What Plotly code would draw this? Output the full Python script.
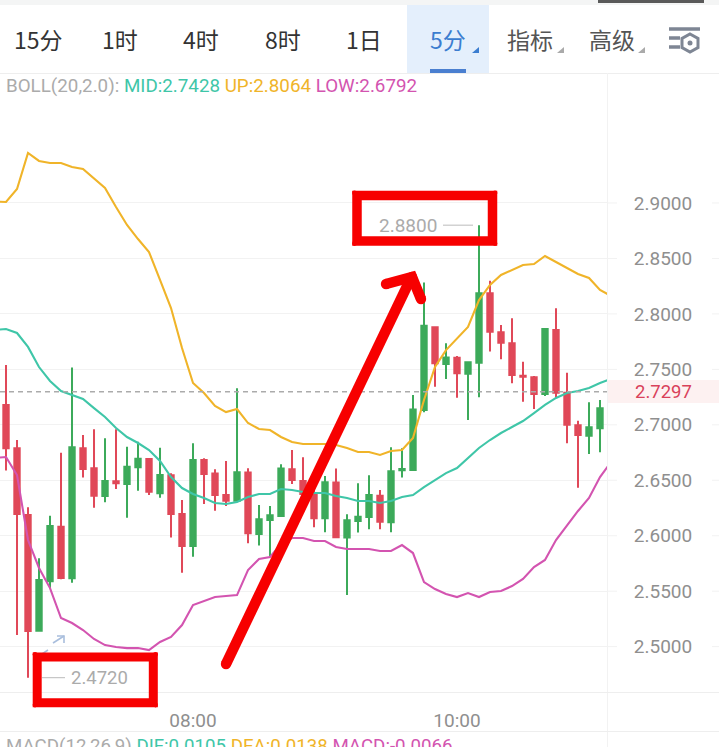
import pandas as pd
import plotly.graph_objects as go

W, H = 719, 747
PLOT_R, PLOT_T, PLOT_B = 607, 73, 692

band_times = pd.date_range("2024-01-01 06:30", periods=57, freq="5min")
candle_times = band_times[1:]

highs = [2.7540,2.6863,2.6256,2.5796,2.6181,2.6749,2.7516,2.6908,2.6959,2.6878,2.6959,2.6803,2.6848,2.6692,2.6794,2.6563,2.6322,2.6833,2.6698,2.6599,2.6674,2.7329,2.6608,2.6277,2.6268,2.6644,2.6773,2.6707,2.6412,2.6539,2.6605,2.6193,2.6473,2.6545,2.6412,2.6797,2.6788,2.7269,2.8282,2.7885,2.7735,2.7621,2.7563,2.8800,2.8300,2.7900,2.7960,2.7569,2.7440,2.7864,2.8050,2.7470,2.7037,2.7203,2.7224,2.7320]
opens = [2.7179,2.6788,2.6187,2.5144,2.5589,2.6082,2.5616,2.6788,2.6608,2.6358,2.6491,2.6467,2.6617,2.6692,2.6382,2.6545,2.6196,2.5907,2.6683,2.6560,2.6367,2.6316,2.6569,2.6016,2.6142,2.6178,2.6599,2.6494,2.6376,2.6157,2.6479,2.5983,2.6133,2.6169,2.6361,2.6121,2.6590,2.6593,2.7134,2.7879,2.7548,2.7605,2.7461,2.7560,2.8186,2.7834,2.7735,2.7443,2.7428,2.7278,2.7855,2.7290,2.6995,2.6902,2.6968,2.7149]
closes = [2.6788,2.6196,2.5141,2.5601,2.6088,2.5619,2.6797,2.6602,2.6361,2.6494,2.6473,2.6623,2.6695,2.6397,2.6548,2.6196,2.5907,2.6683,2.6557,2.6367,2.6316,2.6572,2.6022,2.6148,2.6184,2.6605,2.6503,2.6376,2.6157,2.6482,2.5986,2.6139,2.6172,2.6367,2.6127,2.6581,2.6602,2.7137,2.7894,2.7554,2.7608,2.7464,2.7563,2.8186,2.7840,2.7741,2.7449,2.7434,2.7278,2.7864,2.7290,2.7000,2.6908,2.6977,2.7149,2.7297]
lows = [2.6587,2.5105,2.4720,2.5144,2.5526,2.5607,2.5577,2.6524,2.6253,2.6301,2.6421,2.6163,2.6406,2.6367,2.6343,2.5983,2.5667,2.5811,2.6286,2.6226,2.6268,2.6316,2.5932,2.5911,2.5811,2.6178,2.6467,2.6330,2.6076,2.6031,2.5986,2.5466,2.6028,2.6058,2.6058,2.6031,2.6524,2.6593,2.7113,2.7344,2.7413,2.7245,2.7043,2.7248,2.7660,2.7590,2.7374,2.7209,2.7143,2.7260,2.7245,2.6833,2.6433,2.6737,2.6752,2.7140]

boll_up = [2.9012,2.9009,2.9126,2.9451,2.9379,2.9361,2.9361,2.9325,2.9307,2.9225,2.9135,2.8964,2.8802,2.8675,2.8558,2.8306,2.8053,2.7692,2.7377,2.7287,2.7170,2.7115,2.7142,2.7016,2.6962,2.6953,2.6890,2.6845,2.6827,2.6827,2.6827,2.6818,2.6791,2.6755,2.6755,2.6728,2.6764,2.6773,2.6881,2.7224,2.7521,2.7674,2.7783,2.7882,2.8125,2.8261,2.8351,2.8396,2.8441,2.8450,2.8522,2.8468,2.8414,2.8360,2.8324,2.8216,2.8161]
boll_mid = [2.7855,2.7864,2.7828,2.7702,2.7521,2.7395,2.7305,2.7269,2.7233,2.7151,2.7070,2.6971,2.6890,2.6836,2.6773,2.6674,2.6529,2.6430,2.6376,2.6340,2.6295,2.6286,2.6304,2.6349,2.6376,2.6376,2.6421,2.6412,2.6394,2.6385,2.6385,2.6358,2.6340,2.6313,2.6313,2.6295,2.6313,2.6349,2.6367,2.6439,2.6502,2.6565,2.6610,2.6701,2.6791,2.6863,2.6926,2.6980,2.7034,2.7106,2.7179,2.7242,2.7287,2.7305,2.7332,2.7377,2.7413]
boll_low = [2.6701,2.6710,2.6547,2.5961,2.5709,2.5528,2.5258,2.5213,2.5150,2.5069,2.5014,2.4996,2.4987,2.4987,2.4969,2.5042,2.5087,2.5195,2.5375,2.5411,2.5447,2.5456,2.5465,2.5691,2.5790,2.5808,2.5925,2.5979,2.5979,2.5952,2.5952,2.5898,2.5880,2.5880,2.5880,2.5862,2.5862,2.5916,2.5844,2.5582,2.5519,2.5474,2.5447,2.5483,2.5447,2.5492,2.5501,2.5546,2.5610,2.5718,2.5781,2.5961,2.6097,2.6223,2.6340,2.6529,2.6665]

y_ticks = [2.5, 2.55, 2.6, 2.65, 2.7, 2.75, 2.8, 2.85, 2.9]
y_range = [2.4591, 3.0172]
x_range = ["2024-01-01 06:32:16", "2024-01-01 11:08:11"]
time_ticks = ["2024-01-01 08:00", "2024-01-01 10:00"]
time_labels = ["08:00", "10:00"]
last_price = 2.7297
max_price = 2.8800
min_price = 2.4720

tabs = ["15分", "1时", "4时", "8时", "1日", "5分", "指标", "高级"]
tab_x = [38.5, 120, 201, 283, 364, 448, 530, 612]
tab_colors = ["#333"] * 5 + ["#3B7DD0", "#555", "#555"]

GREEN, RED = "#3CAA5A", "#E04858"
TEAL, YELLOW, PINK = "#3FC6A8", "#F0B429", "#D354B0"
GREY = "#8f8f8f"
FONT = "Roboto"
CJK = "Noto Sans CJK SC"

def px(x):
    return x / W
def py(y):
    return 1 - y / H

fig = go.Figure()
fig.add_trace(go.Candlestick(
    x=candle_times, open=opens, high=highs, low=lows, close=closes,
    increasing=dict(line=dict(color=GREEN, width=2), fillcolor=GREEN),
    decreasing=dict(line=dict(color=RED, width=2), fillcolor=RED),
    whiskerwidth=0, showlegend=False, hoverinfo="skip"))
for vals, col in [(boll_up, YELLOW), (boll_mid, TEAL), (boll_low, PINK)]:
    fig.add_trace(go.Scatter(x=band_times, y=vals, mode="lines",
                             line=dict(color=col, width=2.1), showlegend=False, hoverinfo="skip"))

shapes = []
def seg(x0, y0, x1, y1, color, width, layer="above"):
    shapes.append(dict(type="line", xref="paper", yref="paper", x0=px(x0), y0=py(y0), x1=px(x1), y1=py(y1),
                       line=dict(color=color, width=width), layer=layer))
def box(x0, y0, x1, y1, color, layer="below"):
    shapes.append(dict(type="rect", xref="paper", yref="paper", x0=px(x0), y0=py(y0), x1=px(x1), y1=py(y1),
                       fillcolor=color, line=dict(width=0), layer=layer))
def dot(x, y, r, color):
    shapes.append(dict(type="circle", xref="paper", yref="paper", x0=px(x - r), x1=px(x + r), y0=py(y - r), y1=py(y + r),
                       fillcolor=color, line=dict(width=0)))
def poly(points, color, width, closed=False):
    d = "M" + " L".join(f"{px(a):.5f},{py(b):.5f}" for a, b in points) + (" Z" if closed else "")
    shapes.append(dict(type="path", xref="paper", yref="paper", path=d, line=dict(color=color, width=width)))

# chrome
box(0, 0, 719, 5, "#F4F5F5")
box(598, 0, 704, 3, "#5A5A5A")
box(407, 5, 489, 73, "#E4EFFC")
box(430, 69, 466, 73, "#4A7FD0")
box(0, 73, 719, 74, "#EEEEEE")
box(607, 73, 608, 747, "#F2F2F2")
box(0, 692, 719, 693, "#EEEEEE")
box(0, 731, 719, 732, "#EEEEEE")
box(608, 380, 719, 403, "#FDF1F1")
for t in y_ticks:
    for xa, xb in [(607, 617), (712, 719)]:
        shapes.append(dict(type="line", xref="paper", yref="y", x0=px(xa), x1=px(xb), y0=t, y1=t,
                           line=dict(color="#F2F2F2", width=1), layer="below"))
for tx, col in [(479, "#3B7DD0"), (564, "#AAAAAA"), (645, "#AAAAAA")]:
    poly([(tx - 7, 53), (tx, 53), (tx, 47)], col, 0, True)
    shapes[-1]["fillcolor"] = col
# settings icon
for a, b, yy in [(669, 700, 29), (669, 680, 38), (669, 680, 47)]:
    seg(a, yy, b, yy, "#7E8694", 3.5)
poly([(690, 34), (698, 38.5), (698, 47.5), (690, 52), (682, 47.5), (682, 38.5)], "#7E8694", 3, True)
dot(690, 43, 2.5, "#7E8694")

# last price line
shapes.append(dict(type="line", xref="paper", yref="y", x0=0, x1=px(PLOT_R), y0=last_price, y1=last_price,
                   line=dict(color="#ABABAB", width=1.5, dash="5px,4px")))
# min/max leader lines
shapes.append(dict(type="line", xref="paper", yref="y", x0=px(443), x1=px(473), y0=max_price, y1=max_price,
                   line=dict(color="#BBBBBB", width=1)))
shapes.append(dict(type="line", xref="paper", yref="y", x0=px(42), x1=px(65), y0=min_price, y1=min_price,
                   line=dict(color="#BBBBBB", width=1)))
# pale expand icon
seg(53, 643, 64, 636, "#A9BEDD", 1.6)
poly([(57, 636), (64, 636), (64, 643)], "#A9BEDD", 1.6)
seg(42, 654, 48, 650, "#A9BEDD", 1.6)

# red hand-drawn marks
ROUGE = "#F70000"
poly([(357, 195.5), (492.5, 195.5), (492.5, 241), (357, 241)], ROUGE, 9.5, True)
poly([(37.2, 657), (153.3, 657), (153.3, 702.8), (37.2, 702.8)], ROUGE, 9, True)
for cx, cy in [(354.5, 193), (495, 193), (495, 243.5), (354.5, 243.5), (35, 654.5), (155.5, 654.5), (155.5, 705), (35, 705)]:
    dot(cx, cy, 2.4, ROUGE)
poly([(226, 664), (410, 280)], ROUGE, 10.5)
poly([(386, 284), (412, 277), (421, 299)], ROUGE, 10.5)
for cx, cy in [(226, 664), (386, 284), (412, 277), (421, 299)]:
    dot(cx, cy, 5.2, ROUGE)

ann = []
def label(x, y, text, size, color, anchor="center", family=FONT, yanchor="middle", yref="paper"):
    ann.append(dict(x=px(x), y=py(y) if yref == "paper" else y, xref="paper", yref=yref, text=text, showarrow=False,
                    xanchor=anchor, yanchor=yanchor, align="left",
                    font=dict(size=size, color=color, family=family), borderpad=0, borderwidth=0))
for t, xx, c in zip(tabs, tab_x, tab_colors):
    label(xx, 39, t, 23, c, family=CJK)
label(6, 86,
      f'BOLL(20,2.0): <span style="color:{TEAL}">MID:2.7428</span> '
      f'<span style="color:{YELLOW}">UP:2.8064</span> '
      f'<span style="color:{PINK}">LOW:2.6792</span>', 18.8, "#ABABAB", "left")
label(6, 735,
      f'MACD(12,26,9) <span style="color:{TEAL}">DIF:0.0105</span> '
      f'<span style="color:{YELLOW}">DEA:0.0138</span> '
      f'<span style="color:{PINK}">MACD:-0.0066</span>', 18.7, "#ABABAB", "left", yanchor="top")
label(437, max_price, f"{max_price:.4f}", 19, "#ABABAB", "right", yref="y")
label(71, min_price, f"{min_price:.4f}", 18.5, "#ABABAB", "left", yref="y")
label(663, last_price, f"{last_price:.4f}", 18.5, "#D9415A", yref="y")

fig.update_layout(
    width=W, height=H, margin=dict(l=0, r=0, t=0, b=0), paper_bgcolor="white", plot_bgcolor="white",
    shapes=shapes, annotations=ann, showlegend=False, hovermode=False,
    xaxis=dict(domain=[0, px(PLOT_R)], range=x_range, type="date", rangeslider=dict(visible=False),
               tickmode="array", tickvals=time_ticks, ticktext=time_labels, showgrid=False, zeroline=False,
               ticks="outside", ticklen=11, tickcolor="rgba(0,0,0,0)", showline=False,
               tickfont=dict(size=19, color=GREY, family=FONT)),
    yaxis=dict(domain=[py(PLOT_B), py(PLOT_T)], range=y_range, side="right", tickmode="array", tickvals=y_ticks,
               ticktext=[f"{v:.4f}" for v in y_ticks], showgrid=True, gridcolor="#F2F2F2", gridwidth=1, zeroline=False,
               ticks="outside", ticklen=22, tickcolor="rgba(0,0,0,0)", showline=False,
               tickfont=dict(size=19, color=GREY, family=FONT)),
)
fig.write_html("out.html", config=dict(displayModeBar=False),
               post_script="document.body.style.margin='0';document.body.style.overflow='hidden';")
